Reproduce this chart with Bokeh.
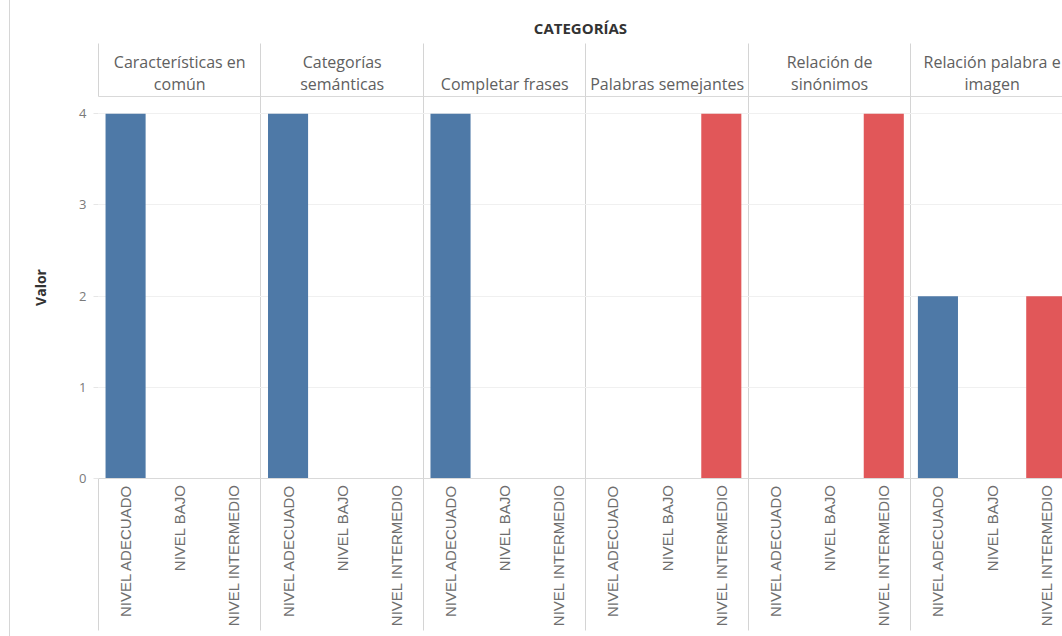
import math
from bokeh.plotting import figure
from bokeh.models import ColumnDataSource, Range1d, FixedTicker, LinearAxis, Div
from bokeh.layouts import row
from bokeh.embed import file_html
from bokeh.resources import INLINE

# ---- data ----
categories = ["Características en común", "Categorías semánticas", "Completar frases",
              "Palabras semejantes", "Relación de sinónimos", "Relación palabra e imagen"]
category_labels = ["Características en\ncomún", "Categorías\nsemánticas", "Completar frases",
                   "Palabras semejantes", "Relación de\nsinónimos", "Relación palabra e\nimagen"]
levels = ["NIVEL ADECUADO", "NIVEL BAJO", "NIVEL INTERMEDIO"]
nivel_adecuado = [4, 4, 4, 0, 0, 2]
nivel_bajo = [0, 0, 0, 0, 0, 0]
nivel_intermedio = [0, 0, 0, 4, 4, 2]
level_colors = ["#4e79a7", "#f28e2b", "#e15759"]
y_ticks = [0, 1, 2, 3, 4]

series = [nivel_adecuado, nivel_bajo, nivel_intermedio]
n_lv = len(levels)

xs, tops, cols = [], [], []
for i, cat in enumerate(categories):
    for j, lv in enumerate(levels):
        xs.append(i * n_lv + j)
        tops.append(series[j][i])
        cols.append(level_colors[j])
src = ColumnDataSource(dict(x=xs, top=tops, color=cols))

slot_ticks = list(range(len(categories) * n_lv))
slot_overrides = {i * n_lv + j: lv for i in range(len(categories)) for j, lv in enumerate(levels)}
panel_centers = [i * n_lv + 1 for i in range(len(categories))]
panel_overrides = {i * n_lv + 1: lab for i, lab in enumerate(category_labels)}
panel_edges = [i * n_lv - 0.5 for i in range(len(categories))]

p = figure(width=1052, height=636, output_backend="svg", toolbar_location=None,
           x_range=Range1d(-0.5, 17.3), y_range=Range1d(0, 4.19),
           min_border_left=88, min_border_right=0, min_border_top=96, min_border_bottom=158)
p.outline_line_color = None
p.background_fill_color = "white"
p.border_fill_color = "white"

p.vbar(x="x", top="top", width=0.74, bottom=0, source=src, fill_color="color", line_color=None)

# bottom axis: level labels
BOTTOM_SEP = 152
xb = p.xaxis[0]
xb.ticker = FixedTicker(ticks=slot_ticks, minor_ticks=panel_edges)
xb.major_label_overrides = slot_overrides
xb.major_label_orientation = math.pi / 2
xb.major_label_text_font = "Liberation Sans"
xb.major_label_text_font_size = "15px"
xb.major_label_text_color = "#6e6e6e"
xb.major_label_standoff = 6 - BOTTOM_SEP
xb.major_tick_out = 0
xb.major_tick_in = 0
xb.minor_tick_out = BOTTOM_SEP
xb.minor_tick_in = 0
xb.minor_tick_line_color = "#d4d4d4"
xb.axis_line_color = "#d9d9d9"

# top axis: category headers
TOP_SEP = 53
xt = LinearAxis(ticker=FixedTicker(ticks=panel_centers, minor_ticks=panel_edges),
                major_label_overrides=panel_overrides, axis_label="CATEGORÍAS")
xt.major_label_text_font = "Open Sans"
xt.major_label_text_font_size = "16px"
xt.major_label_text_color = "#606060"
xt.major_label_text_line_height = 1.0
xt.major_label_standoff = 2 - TOP_SEP
xt.major_tick_out = 0
xt.major_tick_in = 0
xt.minor_tick_out = TOP_SEP
xt.minor_tick_in = 0
xt.minor_tick_line_color = "#d4d4d4"
xt.axis_line_color = "#d9d9d9"
xt.axis_label_text_font = "Open Sans"
xt.axis_label_text_font_style = "bold"
xt.axis_label_text_font_size = "15px"
xt.axis_label_text_color = "#333333"
xt.axis_label_standoff = 10
p.add_layout(xt, "above")

# y axis
ya = p.yaxis[0]
ya.ticker = FixedTicker(ticks=y_ticks)
ya.axis_label = "Valor"
ya.axis_label_text_font = "Open Sans"
ya.axis_label_text_font_style = "bold"
ya.axis_label_text_font_size = "14px"
ya.axis_label_text_color = "#333333"
ya.axis_label_standoff = 26
ya.major_label_text_font = "Open Sans"
ya.major_label_text_font_size = "13px"
ya.major_label_text_color = "#7a7a7a"
ya.major_label_standoff = 7
ya.axis_line_color = None
ya.major_tick_out = 5
ya.major_tick_in = 0
ya.major_tick_line_color = "#e6e6e6"
ya.minor_tick_line_color = None

# grids
p.xgrid.ticker = FixedTicker(ticks=panel_edges)
p.xgrid.grid_line_color = "#d4d4d4"
p.ygrid.ticker = FixedTicker(ticks=y_ticks)
p.ygrid.grid_line_color = "#f0f0f0"

left = Div(width=10, height=636, margin=0,
           styles={"border-right": "1px solid #d6d6d6", "box-sizing": "border-box"})
layout = row(left, p, spacing=0)

open("out.html", "w").write(file_html(layout, INLINE))
